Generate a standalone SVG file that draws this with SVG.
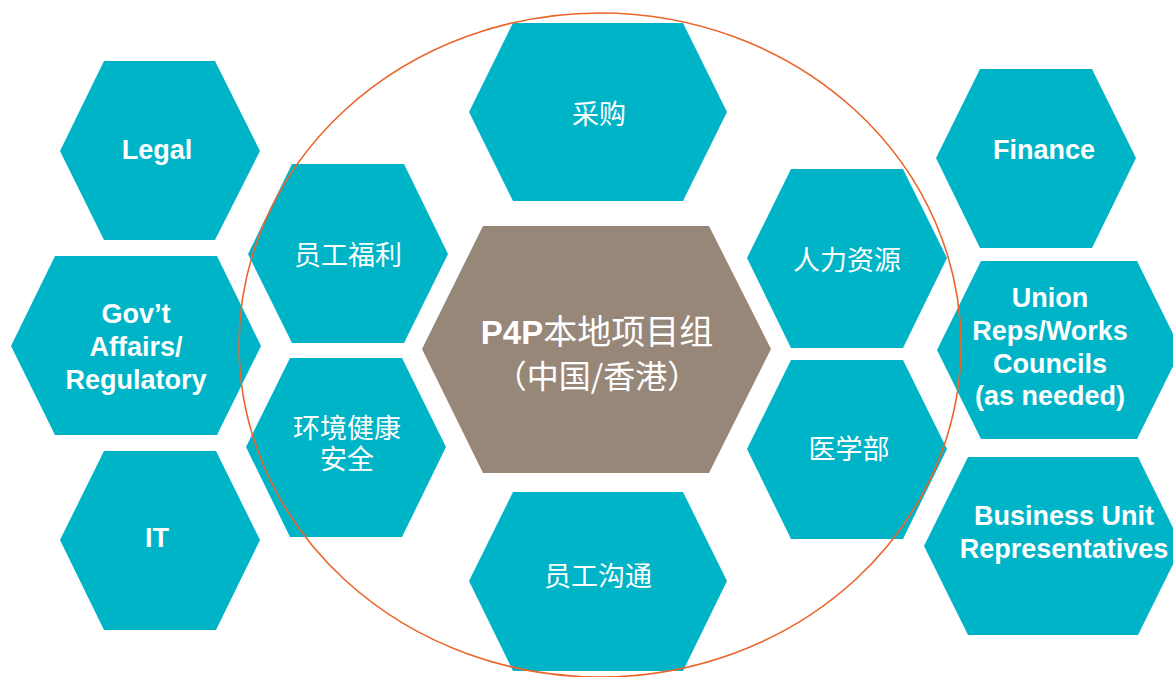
<svg xmlns="http://www.w3.org/2000/svg" width="1173" height="677" viewBox="0 0 1173 677">
  <style>
    .hex { fill: #00B4C8; }
    .core { fill: #978779; }
    .en { font-family: "Liberation Sans", Arial, sans-serif; font-weight: bold; font-size: 27px; fill: #FFFFFF; text-anchor: middle; }
    .zh { font-family: "Noto Sans CJK SC", "Liberation Sans", sans-serif; font-weight: normal; font-size: 27px; fill: #FFFFFF; text-anchor: middle; }
    .ring { fill: none; stroke: #EC6429; stroke-width: 1.6; }
  </style>
  <rect width="1173" height="677" fill="#FFFFFF"/>

  <g id="legal">
    <polygon class="hex" points="104,61 215,61 260,151 215,240 104,240 60,151"/>
    <text class="en" x="157" y="159">Legal</text>
  </g>
  <g id="govt">
    <polygon class="hex" points="55,256 217,256 261,346 217,435 55,435 11,346"/>
    <text class="en" x="136" y="323">Gov’t</text>
    <text class="en" x="136" y="356">Affairs/</text>
    <text class="en" x="136" y="389">Regulatory</text>
  </g>
  <g id="it">
    <polygon class="hex" points="104,451 216,451 260,540 216,630 104,630 60,540"/>
    <text class="en" x="157" y="547">IT</text>
  </g>
  <g id="benefits">
    <polygon class="hex" points="292,164 404,164 448,254 404,343 292,343 248,254"/>
    <text class="zh" x="348" y="265">员工福利</text>
  </g>
  <g id="ehs">
    <polygon class="hex" points="290,358 402,358 446,447 402,537 290,537 246,447"/>
    <text class="zh" x="347" y="438">环境健康</text>
    <text class="zh" x="347" y="469">安全</text>
  </g>
  <g id="procurement">
    <polygon class="hex" points="513,23 683,23 727,112 683,201 513,201 469,112"/>
    <text class="zh" x="599" y="124">采购</text>
  </g>
  <g id="core-team">
    <polygon class="core" points="483,226 709,226 771,349 709,473 483,473 422,349"/>
    <text x="597" y="344" style="font-size:34px;fill:#FFFFFF;text-anchor:middle;font-family:'Noto Sans CJK SC','Liberation Sans',sans-serif;"><tspan style="font-family:'Liberation Sans',Arial,sans-serif;font-weight:bold;font-size:33px;">P4P</tspan>本地项目组</text>
    <text x="597" y="388" style="font-size:32px;fill:#FFFFFF;text-anchor:middle;font-family:'Noto Sans CJK SC','Liberation Sans',sans-serif;">（中国/香港）</text>
  </g>
  <g id="comms">
    <polygon class="hex" points="513,492 683,492 727,581 683,671 513,671 469,581"/>
    <text class="zh" x="598" y="586">员工沟通</text>
  </g>
  <g id="hr">
    <polygon class="hex" points="791,169 903,169 947,258 903,348 791,348 747,258"/>
    <text class="zh" x="847" y="270">人力资源</text>
  </g>
  <g id="medical">
    <polygon class="hex" points="791,360 903,360 947,449 903,539 791,539 747,449"/>
    <text class="zh" x="849" y="459">医学部</text>
  </g>
  <g id="finance">
    <polygon class="hex" points="980,69 1092,69 1136,158 1092,248 980,248 936,158"/>
    <text class="en" x="1044" y="159">Finance</text>
  </g>
  <g id="union">
    <polygon class="hex" points="981,261 1137,261 1181,350 1137,439 981,439 937,350"/>
    <text class="en" x="1050" y="307">Union</text>
    <text class="en" x="1050" y="340">Reps/Works</text>
    <text class="en" x="1050" y="373">Councils</text>
    <text class="en" x="1050" y="405">(as needed)</text>
  </g>
  <g id="business-unit">
    <polygon class="hex" points="968,457 1138,457 1182,546 1138,635 968,635 924,546"/>
    <text class="en" x="1064" y="525">Business Unit</text>
    <text class="en" x="1064" y="558">Representatives</text>
  </g>

  <g id="connectors">
    <ellipse class="ring" cx="600" cy="345" rx="361" ry="332"/>
  </g>
</svg>
